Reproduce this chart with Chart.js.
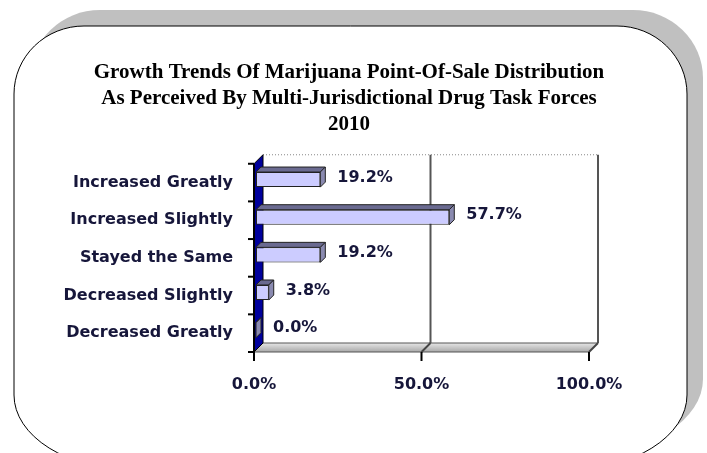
<!DOCTYPE html>
<html>
<head>
<meta charset="utf-8">
<script src="https://cdn.jsdelivr.net/npm/chart.js@4.4.1/dist/chart.umd.min.js"></script>
<style>
  html, body { margin: 0; padding: 0; background: #fff; }
  #wrap { width: 707px; height: 453px; position: relative; }
</style>
</head>
<body>
<div id="wrap"><canvas id="chart"></canvas></div>
<script>
const categories = ['Increased Greatly', 'Increased Slightly', 'Stayed the Same', 'Decreased Slightly', 'Decreased Greatly'];
const shares = [19.2, 57.7, 19.2, 3.8, 0.0];
const xTicks = [0, 50, 100];
const titleLines = [
    'Growth Trends Of Marijuana Point-Of-Sale Distribution',
    'As Perceived By Multi-Jurisdictional Drug Task Forces',
    '2010'
];

const DEPTH = 9;       // depth of the fake 3D walls
const BAR_DEPTH = 5;   // depth of each bar
const SHIFT = { x: 2, y: -3 };
const labelFont = 'bold 16px "DejaVu Sans", sans-serif';
const labelColor = '#16163a';

// box with elliptical corners, separate radii for top and bottom
function frameBox(ctx, x, y, w, h, top, bot) {
    ctx.beginPath();
    ctx.moveTo(x + top.rx, y);
    ctx.lineTo(x + w - top.rx, y);
    ctx.ellipse(x + w - top.rx, y + top.ry, top.rx, top.ry, 0, -Math.PI / 2, 0);
    ctx.lineTo(x + w, y + h - bot.ry);
    ctx.ellipse(x + w - bot.rx, y + h - bot.ry, bot.rx, bot.ry, 0, 0, Math.PI / 2);
    ctx.lineTo(x + bot.rx, y + h);
    ctx.ellipse(x + bot.rx, y + h - bot.ry, bot.rx, bot.ry, 0, Math.PI / 2, Math.PI);
    ctx.lineTo(x, y + top.ry);
    ctx.ellipse(x + top.rx, y + top.ry, top.rx, top.ry, 0, Math.PI, Math.PI * 1.5);
    ctx.closePath();
}

function poly(ctx, pts, fill, stroke, lw) {
    ctx.beginPath();
    ctx.moveTo(pts[0][0], pts[0][1]);
    pts.slice(1).forEach(p => ctx.lineTo(p[0], p[1]));
    ctx.closePath();
    if (fill) { ctx.fillStyle = fill; ctx.fill(); }
    if (stroke) { ctx.strokeStyle = stroke; ctx.lineWidth = lw || 1; ctx.stroke(); }
}

function line(ctx, x1, y1, x2, y2, color, lw) {
    ctx.beginPath();
    ctx.moveTo(x1, y1);
    ctx.lineTo(x2, y2);
    ctx.strokeStyle = color;
    ctx.lineWidth = lw;
    ctx.stroke();
}

// rounded frame with grey shadow behind the whole chart
const framePlugin = {
    id: 'frame',
    afterLayout(chart) {
        // centre the title on the page, not on the padded box
        const t = chart.titleBlock;
        t.left = 0;
        t.right = 698;
        t.width = 698;
    },
    beforeDraw(chart) {
        const ctx = chart.ctx;
        const top = { rx: 70, ry: 68 }, bot = { rx: 120, ry: 75 };
        ctx.save();
        ctx.fillStyle = '#fff';
        ctx.fillRect(0, 0, chart.width, chart.height);
        frameBox(ctx, 30, 10, 673, 444, top, bot);
        ctx.fillStyle = '#c0c0c0';
        ctx.fill();
        frameBox(ctx, 14, 26, 673, 444, top, bot);
        ctx.fillStyle = '#fff';
        ctx.fill();
        ctx.strokeStyle = '#000';
        ctx.lineWidth = 1;
        ctx.stroke();
        ctx.restore();
    }
};

// walls, floor and bar depth
const depthPlugin = {
    id: 'depth',
    beforeDatasetsDraw(chart) {
        const ctx = chart.ctx;
        const { left: L, right: R, top: T, bottom: B } = chart.chartArea;
        const xs = chart.scales.x;
        const d = DEPTH;
        ctx.save();

        // back wall
        ctx.fillStyle = '#fff';
        ctx.fillRect(L + d, T - d, R - L, B - T);
        ctx.setLineDash([1, 2]);
        line(ctx, L + d, T - d, R + d, T - d, '#888', 1);
        ctx.setLineDash([]);

        // floor
        const g = ctx.createLinearGradient(0, B - d, 0, B);
        g.addColorStop(0, '#e6e6e6');
        g.addColorStop(1, '#a8a8a8');
        poly(ctx, [[L, B], [R, B], [R + d, B - d], [L + d, B - d]], g, '#555', 1);

        // grid lines on the back wall and floor
        xTicks.filter(v => v > 0).forEach(v => {
            const px = xs.getPixelForValue(v);
            line(ctx, px + d, T - d, px + d, B - d, '#555', 2);
            line(ctx, px, B, px + d, B - d, '#444', 2);
        });

        // left wall
        poly(ctx, [[L, T], [L + d, T - d], [L + d, B - d], [L, B]], '#00009c', '#000', 1);

        // axis lines and tick marks
        line(ctx, L, T, L, B + 1, '#000', 2);
        xTicks.forEach(v => {
            const px = xs.getPixelForValue(v);
            line(ctx, px, B, px, B + 9, '#000', 2);
        });
        const band = (B - T) / categories.length;
        for (let i = 0; i <= categories.length; i++) {
            const y = T + i * band;
            line(ctx, L - 6, y, L, y, '#000', 2);
        }
        ctx.restore();

        // bars sit a little behind the front plane
        ctx.save();
        ctx.translate(SHIFT.x, SHIFT.y);
    },
    afterDatasetsDraw(chart) {
        const ctx = chart.ctx;
        const meta = chart.getDatasetMeta(0);
        const e = BAR_DEPTH;
        meta.data.forEach(bar => {
            const { x, y, base, height } = bar.getProps(['x', 'y', 'base', 'height'], true);
            const top = y - height / 2, bot = y + height / 2;
            poly(ctx, [[base, top], [x, top], [x + e, top - e], [base + e, top - e]], '#6a6a90', '#222', 1);
            poly(ctx, [[x, top], [x + e, top - e], [x + e, bot - e], [x, bot]], '#8a8ab0', '#222', 1);
        });
        ctx.restore();

        ctx.save();
        ctx.font = labelFont;
        ctx.fillStyle = labelColor;
        ctx.textAlign = 'left';
        ctx.textBaseline = 'middle';
        meta.data.forEach((bar, i) => {
            const { x, y } = bar.getProps(['x', 'y'], true);
            ctx.fillText(shares[i].toFixed(1) + '%', x + 19, y - 5);
        });
        ctx.restore();
    }
};

const ctxBar = document.getElementById('chart').getContext('2d');
const chart = new Chart(ctxBar, {
    type: 'bar',
    data: {
        labels: categories,
        datasets: [{
            data: shares,
            backgroundColor: '#ccccff',
            borderColor: '#222',
            borderWidth: 1,
            borderSkipped: false,
            categoryPercentage: 1,
            barPercentage: 0.4
        }]
    },
    options: {
        indexAxis: 'y',
        responsive: true,
        maintainAspectRatio: false,
        animation: false,
        layout: { padding: { top: 59, left: 10, right: 118, bottom: 41 } },
        scales: {
            x: {
                min: 0,
                max: 100,
                grid: { display: false, drawTicks: false },
                border: { display: false },
                ticks: {
                    stepSize: 50,
                    padding: 23,
                    maxRotation: 0,
                    color: labelColor,
                    font: { family: '"DejaVu Sans", sans-serif', size: 16, weight: 'bold' },
                    callback: v => v.toFixed(1) + '%'
                },
                afterFit: s => { s.height = 60; }
            },
            y: {
                grid: { display: false, drawTicks: false },
                border: { display: false },
                ticks: {
                    padding: 21,
                    color: labelColor,
                    font: { family: '"DejaVu Sans", sans-serif', size: 16, weight: 'bold' }
                },
                afterFit: s => { s.width = 244; }
            }
        },
        plugins: {
            legend: { display: false },
            tooltip: { enabled: false },
            title: {
                display: true,
                text: titleLines,
                color: '#000',
                padding: { top: 0, bottom: 26 },
                font: { family: '"Liberation Serif", "Times New Roman", serif', size: 21, weight: 'bold', lineHeight: 1.25 }
            }
        }
    },
    plugins: [framePlugin, depthPlugin]
});
</script>
</body>
</html>
